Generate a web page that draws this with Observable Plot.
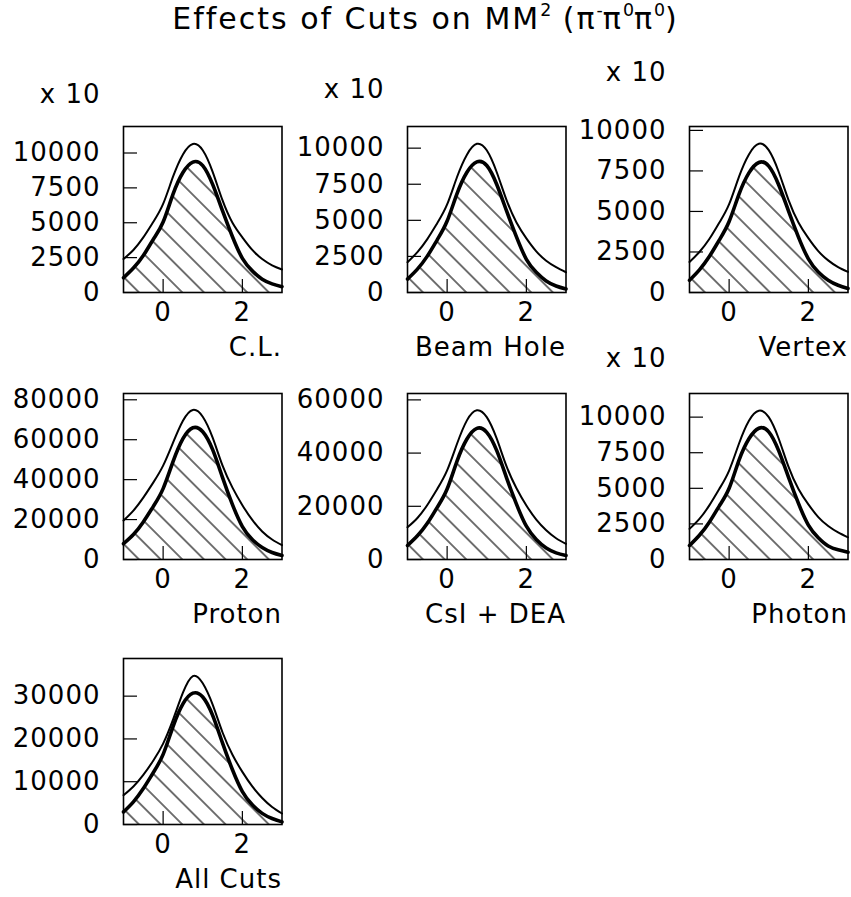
<!DOCTYPE html>
<html>
<head>
<meta charset="utf-8">
<script src="https://cdn.jsdelivr.net/npm/d3@7"></script>
<script src="https://cdn.jsdelivr.net/npm/@observablehq/plot@0.6"></script>
<style>
  body { margin: 0; background: #fff; }
  #wrap { position: relative; width: 851px; height: 897px; overflow: hidden; font-family: "DejaVu Sans", sans-serif; color: #000; }
  #title { position: absolute; left: 0; top: 4px; width: 851px; text-align: center; font-size: 30px; line-height: 30px; letter-spacing: 2px; }
  #title sup { font-size: 58%; vertical-align: 0; position: relative; top: -0.75em; letter-spacing: 0; }
  .panel { position: absolute; }
</style>
</head>
<body>
<svg width="0" height="0" style="position:absolute">
  <defs>
    <pattern id="hatch" patternUnits="userSpaceOnUse" width="15.3" height="15.3" patternTransform="rotate(-45)">
      <line x1="7.65" y1="-1" x2="7.65" y2="16.3" stroke="#000" stroke-width="1.1"></line>
    </pattern>
  </defs>
</svg>
<div id="wrap">
  <div id="title">Effects of Cuts on MM<sup>2</sup> (π<sup>-</sup>π<sup>0</sup>π<sup>0</sup>)</div>
</div>
<script>
// ---- data ----
const xs = [-1, -0.75, -0.5, -0.25, 0, 0.25, 0.5, 0.75, 1, 1.25, 1.5, 1.75, 2, 2.25, 2.5, 2.75, 3];
const xTicks = [0, 2];

const labels = ["C.L.", "Beam Hole", "Vertex", "Proton", "CsI + DEA", "Photon", "All Cuts"];

const clOuter   = [2400, 3050, 3950, 5050, 6350, 8300, 9900, 10650, 10200, 8650, 6600, 5000, 3950, 3050, 2400, 1950, 1650];
const clInner   = [1050, 1750, 2650, 3800, 5050, 7050, 8600, 9350, 9100, 7750, 5850, 4000, 2450, 1550, 950, 620, 420];
const beamOuter = [2100, 2800, 3700, 4800, 6100, 8000, 9550, 10300, 9850, 8350, 6400, 4850, 3750, 2850, 2200, 1750, 1400];
const beamInner = [930, 1620, 2520, 3650, 4950, 6850, 8330, 9050, 8800, 7500, 5650, 3850, 2300, 1400, 800, 450, 240];
const vtxOuter  = [1880, 2500, 3300, 4300, 5450, 7150, 8520, 9175, 8780, 7450, 5700, 4320, 3350, 2550, 1980, 1560, 1270];
const vtxInner  = [760, 1400, 2220, 3230, 4380, 6070, 7380, 8020, 7800, 6650, 5020, 3420, 2080, 1270, 760, 450, 250];
const protOuter = [19500, 24500, 31000, 38500, 47000, 58500, 69500, 74900, 71500, 61000, 47000, 36000, 27200, 19800, 14000, 10000, 7200];
const protInner = [7900, 12500, 18800, 26500, 35500, 49000, 60500, 66000, 64000, 55000, 41000, 27500, 16500, 10000, 6000, 3500, 2000];
const csiOuter  = [12100, 15600, 20500, 26500, 33500, 43500, 52300, 56100, 53500, 45500, 35000, 26800, 20300, 15000, 11000, 8000, 5900];
const csiInner  = [5250, 8900, 13600, 19600, 26500, 37000, 45300, 49300, 47800, 41000, 30700, 20800, 12500, 7500, 4300, 2500, 1500];
const phoOuter  = [2150, 2850, 3800, 4950, 6250, 8150, 9750, 10450, 10000, 8500, 6500, 4950, 3870, 2980, 2350, 1900, 1560];
const phoInner  = [980, 1700, 2620, 3750, 5000, 6980, 8480, 9220, 8970, 7650, 5770, 3940, 2420, 1530, 950, 680, 510];
const allOuter  = [6850, 8900, 11600, 14900, 18900, 24500, 30800, 34700, 33000, 28000, 21500, 16300, 12300, 8900, 6200, 4100, 2570];
const allInner  = [2940, 5300, 8400, 12100, 16400, 22900, 28200, 30700, 29800, 25500, 19000, 12800, 7700, 4600, 2600, 1400, 610];

const yMax = [11900, 11500, 10240, 83150, 62400, 11660, 38800];
const ticks2500 = [0, 2500, 5000, 7500, 10000];
const ticksProt = [0, 20000, 40000, 60000, 80000];
const ticksCsi  = [0, 20000, 40000, 60000];
const ticksAll  = [0, 10000, 20000, 30000];
const multiplier = ["x 10", "x 10", "x 10", null, null, "x 10", null];

// ---- layout ----
const panels = [
  {label: labels[0], outer: clOuter,   inner: clInner,   ymax: yMax[0], ticks: ticks2500, mult: multiplier[0], col: 0, row: 0},
  {label: labels[1], outer: beamOuter, inner: beamInner, ymax: yMax[1], ticks: ticks2500, mult: multiplier[1], col: 1, row: 0},
  {label: labels[2], outer: vtxOuter,  inner: vtxInner,  ymax: yMax[2], ticks: ticks2500, mult: multiplier[2], col: 2, row: 0},
  {label: labels[3], outer: protOuter, inner: protInner, ymax: yMax[3], ticks: ticksProt, mult: multiplier[3], col: 0, row: 1},
  {label: labels[4], outer: csiOuter,  inner: csiInner,  ymax: yMax[4], ticks: ticksCsi,  mult: multiplier[4], col: 1, row: 1},
  {label: labels[5], outer: phoOuter,  inner: phoInner,  ymax: yMax[5], ticks: ticks2500, mult: multiplier[5], col: 2, row: 1},
  {label: labels[6], outer: allOuter,  inner: allInner,  ymax: yMax[6], ticks: ticksAll,  mult: multiplier[6], col: 0, row: 2}
];
const colLeft = [0, 283.7, 566];
const rowTop = [56, 322.5, 588.3];
const ML = 123, MR = 6, MT = 70, MB = 70, FW = 158.5, FH = 166;
const Y_TICK_LEN = 14, X_TICK_LEN = 13;

const wrap = document.getElementById("wrap");

for (const p of panels) {
  const data = xs.map((x, i) => ({x, outer: p.outer[i], inner: p.inner[i]}));
  const marks = [
    Plot.areaY(data, {x: "x", y: "inner", curve: "natural", fill: "url(#hatch)"}),
    Plot.lineY(data, {x: "x", y: "outer", curve: "natural", stroke: "#000", strokeWidth: 2}),
    Plot.lineY(data, {x: "x", y: "inner", curve: "natural", stroke: "#000", strokeWidth: 3.6}),
    // inward tick marks
    Plot.ruleY(p.ticks, {y: d => d, stroke: "#000", strokeWidth: 1.2, insetRight: FW - Y_TICK_LEN}),
    Plot.ruleX(xTicks, {x: d => d, stroke: "#000", strokeWidth: 1.2, insetTop: FH - X_TICK_LEN}),
    // tick labels
    Plot.axisY(p.ticks, {tickSize: 0, tickPadding: 23, tickFormat: d => String(d), label: null}),
    Plot.axisX(xTicks, {tickSize: 0, tickPadding: 10, tickFormat: d => String(d), label: null}),
    Plot.frame({stroke: "#000", strokeWidth: 1.6}),
    Plot.text([p.label], {frameAnchor: "bottom-right", textAnchor: "end", lineAnchor: "middle", dy: 55, text: d => d, ariaLabel: "panel-label"})
  ];
  if (p.mult) {
    marks.push(Plot.text([p.ticks[p.ticks.length - 1]], {y: d => d, frameAnchor: "left", textAnchor: "end", lineAnchor: "middle", dx: -23, dy: -58, text: () => p.mult}));
  }
  const svg = Plot.plot({
    width: ML + FW + MR,
    height: MT + FH + MB,
    marginLeft: ML, marginRight: MR, marginTop: MT, marginBottom: MB,
    style: {background: "none", overflow: "visible", fontFamily: "DejaVu Sans, sans-serif", fontSize: "26px", letterSpacing: "1px", color: "#000"},
    x: {domain: [-1, 3]},
    y: {domain: [0, p.ymax]},
    marks
  });
  d3.select(svg).selectAll('g[aria-label="panel-label"] text').style("letter-spacing", "0px");
  svg.classList.add("panel");
  svg.style.position = "absolute";
  svg.style.left = colLeft[p.col] + "px";
  svg.style.top = rowTop[p.row] + "px";
  svg.style.maxWidth = "none";
  wrap.appendChild(svg);
}
</script>
</body>
</html>
